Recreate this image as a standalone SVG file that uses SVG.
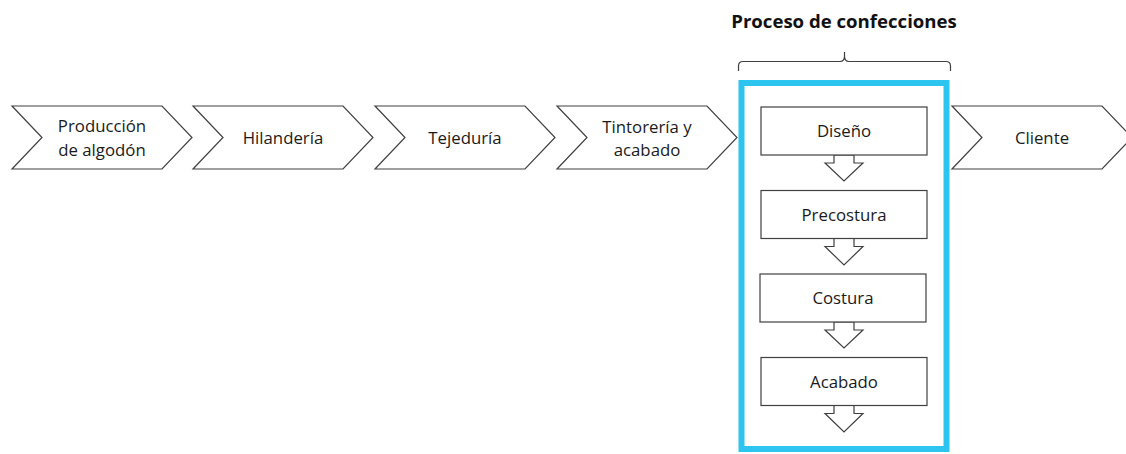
<svg xmlns="http://www.w3.org/2000/svg" width="1126" height="454" viewBox="0 0 1126 454">
<style>
.sh{fill:#fff;stroke:#404040;stroke-width:1.2}
.t{font-family:"Open Sans","Liberation Sans",sans-serif;font-size:16.8px;fill:#1a1a1a;text-anchor:middle}
.title{font-family:"Open Sans","Liberation Sans",sans-serif;font-size:18.6px;font-weight:bold;fill:#111;text-anchor:middle}
</style>
<rect width="1126" height="454" fill="#fff"/>
<g id="title"><text class="title" x="844" y="28">Proceso de confecciones</text></g>
<g id="brace"><path d="M738.5,71 V66 Q738.5,61.5 743,61.5 H840 Q844.5,61.5 844.5,56 V52 M844.5,56 Q844.5,61.5 849,61.5 H946 Q950.5,61.5 950.5,66 V71" fill="none" stroke="#404040" stroke-width="1.2"/></g>
<g id="n1"><polygon class="sh" points="12,106 162,106 192,137.5 162,169 12,169 42,137.5"/><text class="t" x="102" y="132">Producción</text><text class="t" x="102" y="156">de algodón</text></g>
<g id="n2"><polygon class="sh" points="193,106 343,106 373,137.5 343,169 193,169 223,137.5"/><text class="t" x="283" y="144">Hilandería</text></g>
<g id="n3"><polygon class="sh" points="375,106 525,106 555,137.5 525,169 375,169 405,137.5"/><text class="t" x="465" y="144">Tejeduría</text></g>
<g id="n4"><polygon class="sh" points="557,106 707,106 737,137.5 707,169 557,169 587,137.5"/><text class="t" x="647" y="133">Tintorería y</text><text class="t" x="647" y="156">acabado</text></g>
<g id="n6"><polygon class="sh" points="952,106 1102,106 1132,137.5 1102,169 952,169 982,137.5"/><text class="t" x="1042" y="144">Cliente</text></g>
<g id="group"><rect x="741.5" y="83" width="205" height="366" fill="none" stroke="#2DC4F0" stroke-width="6"/></g>
<g id="connectors">
<polygon class="sh" points="834,155 854,155 854,163 863,163 844,181 825,163 834,163"/>
<polygon class="sh" points="834,238.5 854,238.5 854,246.5 863,246.5 844,265 825,246.5 834,246.5"/>
<polygon class="sh" points="834,322 854,322 854,330 863,330 844,348 825,330 834,330"/>
<polygon class="sh" points="834,405.5 854,405.5 854,413.5 863,413.5 844,432 825,413.5 834,413.5"/>
</g>
<g id="s1"><rect class="sh" x="761" y="107" width="166" height="48"/><text class="t" x="844" y="137">Diseño</text></g>
<g id="s2"><rect class="sh" x="761" y="190.5" width="166" height="48"/><text class="t" x="844" y="220.5">Precostura</text></g>
<g id="s3"><rect class="sh" x="760" y="274" width="166" height="48"/><text class="t" x="843" y="304">Costura</text></g>
<g id="s4"><rect class="sh" x="761" y="357.5" width="166" height="48"/><text class="t" x="844" y="387.5">Acabado</text></g>
</svg>
